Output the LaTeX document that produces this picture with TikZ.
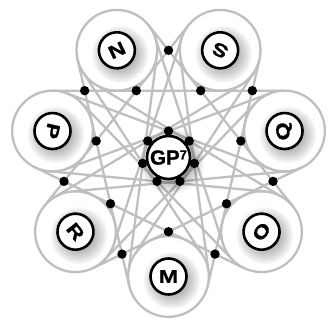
\documentclass[tikz,border=0pt]{standalone}
\usepackage{fontspec}
\setmainfont{Liberation Sans}
\newfontfamily\heavy{Liberation Sans Bold}[FakeStretch=1.25, FakeBold=1]
\newfontfamily\hubfont{Liberation Sans Bold}[FakeBold=1]
\usetikzlibrary{calc}
\definecolor{beltgray}{HTML}{BFBFBF}

\begin{document}
\begin{tikzpicture}[x=1pt, y=1pt,
    belt/.style={draw=beltgray, line width=2.3pt},
    letter/.style={circle, draw, line width=2.6pt, fill=white, minimum size=36pt,
      inner sep=0pt, font=\heavy\fontsize{18.5}{18.5}\selectfont},
    hub/.style={letter, minimum size=43pt, font=\hubfont\fontsize{20.5}{20.5}\selectfont}]
  \useasboundingbox (0,0) rectangle (334,325);
  \coordinate (C) at (168.5,167.5);
  \def\rad{119}
  \pgfmathsetmacro\a{\rad*(sin(64.2857)-sin(12.8571))/2}
  \pgfmathsetmacro\tang{acos(\a/(\rad*sin(77.1429)))}

  % --- centros y circulos grises ---
  \foreach \k in {0,...,6} {
    \coordinate (c\k) at ($(C)+({-90+\k*360/7}:\rad)$);
    \draw[belt] (c\k) circle (\a);
  }

  % --- rectas largas (tangentes a cuatro circulos) ---
  \foreach \j in {0,...,6} {
    \pgfmathsetmacro\psi{-90+\j*360/7+180/7}
    \pgfmathtruncatemacro\p{mod(\j+2,7)}
    \pgfmathtruncatemacro\q{mod(\j+6,7)}
    \coordinate (u\j) at ($(c\p)+(\psi:\a)$);
    \coordinate (v\j) at ($(c\q)+(\psi:\a)$);
    \draw[belt] (u\j) -- (v\j);
  }

  % --- tangentes cruzadas entre circulos opuestos ---
  \foreach \k in {0,...,6} {
    \pgfmathsetmacro\dir{-90+\k*360/7+90+540/7}
    \pgfmathtruncatemacro\m{mod(\k+3,7)}
    \coordinate (s\k) at ($(c\k)+({\dir+\tang}:\a)$);
    \coordinate (t\k) at ($(c\m)+({\dir+180+\tang}:\a)$);
    \coordinate (w\k) at ($(c\k)+({\dir-\tang}:\a)$);
    \coordinate (z\k) at ($(c\m)+({\dir+180-\tang}:\a)$);
    \draw[belt] (s\k) -- (t\k);
    \draw[belt] (w\k) -- (z\k);
  }

  % --- sombras ---
  \foreach \k in {0,...,6}
    \foreach \s in {0,...,9}
      \fill[black, opacity=.035] ($(c\k)+(3.5,-4)$) circle ({14+\s*1.6});
  \foreach \s in {0,...,9}
    \fill[black, opacity=.035] ($(C)+(3.5,-4)$) circle ({18+\s*1.6});

  % --- nodos ---
  \foreach \k/\lab in {0/M,1/O,2/Q,3/S,4/N,5/P,6/R}
    \node[letter, rotate={\k*360/7}] (n\lab) at (c\k) {\lab};
  \node[hub] (gp) at (C) {GP\raisebox{5.3pt}{\fontsize{13}{13}\selectfont 7}};

  % --- puntos de cruce ---
  \foreach \k in {0,...,6}
    \foreach \d in {1,2,3} {
      \pgfmathtruncatemacro\m{mod(\k+\d,7)}
      \fill ($(c\k)!.5!(c\m)$) circle (4.7);
    }
\end{tikzpicture}
\end{document}
